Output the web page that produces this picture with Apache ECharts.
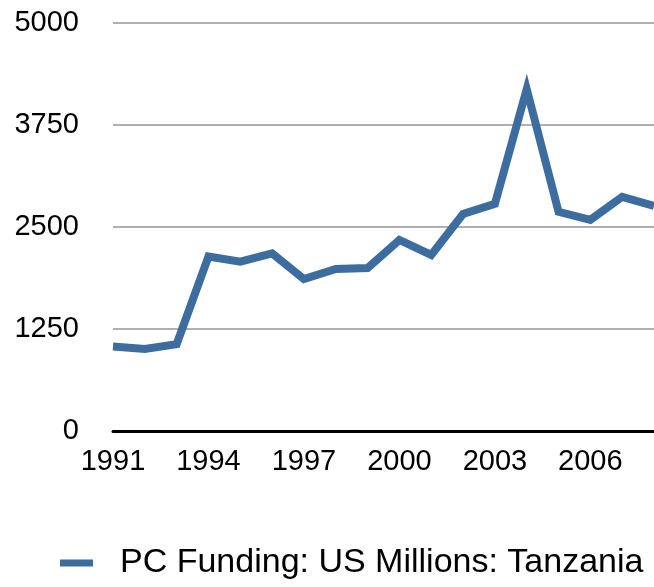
<!DOCTYPE html>
<html>
  <head>
    <meta charset="utf-8" />
    <title>PC Funding Tanzania</title>
    <script src="https://cdn.jsdelivr.net/npm/echarts@6/dist/echarts.min.js"></script>
    <style>
      html, body { margin: 0; padding: 0; background: #fff; }
    </style>
  </head>
  <body>
    <div id="main" style="width: 654px;height:587px;"></div>
    <script type="text/javascript">
      // values
      var years = ['1991', '1992', '1993', '1994', '1995', '1996', '1997', '1998', '1999',
                   '2000', '2001', '2002', '2003', '2004', '2005', '2006', '2007', '2008'];
      var funding = [1035, 1006, 1065, 2138, 2076, 2178, 1862, 1985, 1997,
                     2342, 2158, 2659, 2784, 4190, 2686, 2588, 2870, 2760];
      var yTicks = [0, 1250, 2500, 3750, 5000];

      var chartDom = document.getElementById('main');
      var myChart = echarts.init(chartDom);
      var option;

      option = {
        animation: false,
        textStyle: { fontFamily: 'Liberation Sans' },
        grid: {
          left: 113,
          right: -8,
          top: 23,
          bottom: 156
        },
        legend: {
          bottom: 2,
          left: 55,
          itemWidth: 33,
          itemHeight: 7,
          icon: 'rect',
          textStyle: { fontSize: 34, color: '#000', padding: [0, 0, 0, 22] },
          data: ['PC Funding: US Millions: Tanzania']
        },
        xAxis: {
          type: 'category',
          data: years,
          boundaryGap: false,
          axisLine: { lineStyle: { color: '#000', width: 3 } },
          axisTick: { show: false },
          axisLabel: {
            interval: 2,
            color: '#000',
            fontSize: 29,
            margin: 16
          },
          splitLine: { show: false }
        },
        yAxis: {
          type: 'value',
          min: yTicks[0],
          max: yTicks[yTicks.length - 1],
          interval: 1250,
          axisLine: { show: false },
          axisTick: { show: false },
          axisLabel: {
            color: '#000',
            fontSize: 29,
            margin: 34,
            formatter: function (v) { return String(v); }
          },
          splitLine: { lineStyle: { color: '#b0b0b0', width: 2 } }
        },
        series: [
          {
            name: 'PC Funding: US Millions: Tanzania',
            type: 'line',
            data: funding,
            symbol: 'none',
            color: '#3d6c9f',
            lineStyle: { width: 8, color: '#3d6c9f', join: 'miter' }
          }
        ]
      };

      option && myChart.setOption(option);
    </script>
  </body>
</html>
